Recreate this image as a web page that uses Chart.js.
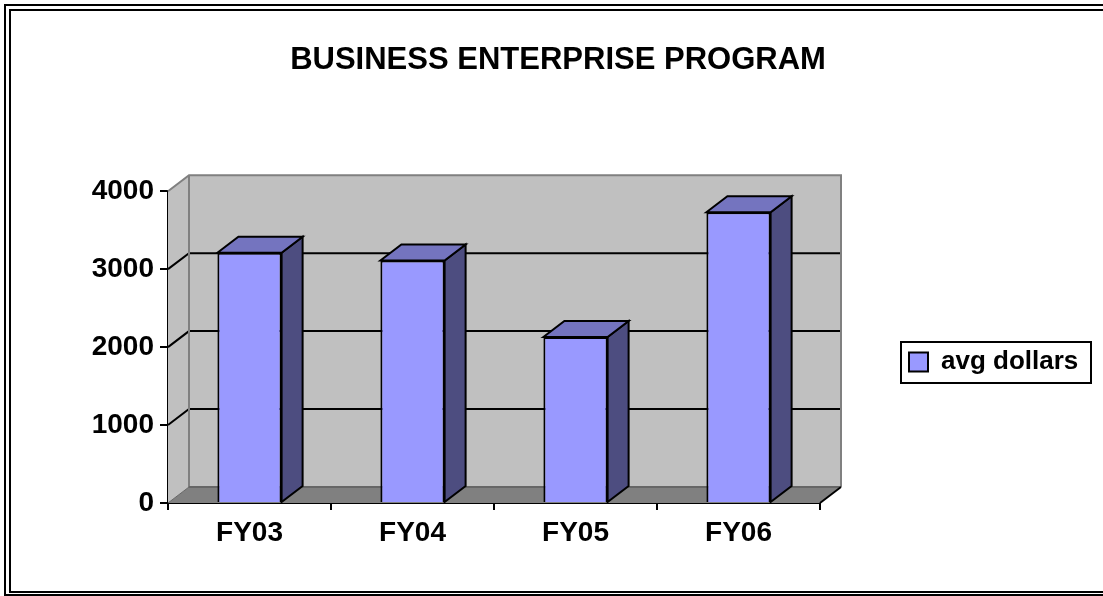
<!DOCTYPE html>
<html>
<head>
<meta charset="utf-8">
<title>Business Enterprise Program</title>
<script src="https://cdn.jsdelivr.net/npm/chart.js@4.4.1/dist/chart.umd.min.js"></script>
<style>
  html, body { margin: 0; padding: 0; background: #fff; overflow: hidden; }
  canvas { display: block; }
</style>
</head>
<body>
<canvas id="chart" width="1103" height="596"></canvas>
<script>
// values
const categories = ['FY03', 'FY04', 'FY05', 'FY06'];
const avgDollars = [3210, 3110, 2130, 3730];
const seriesName = 'avg dollars';
const yTicks = [0, 1000, 2000, 3000, 4000];
const chartTitle = 'BUSINESS ENTERPRISE PROGRAM';

const FONT = "'Liberation Sans', Arial, sans-serif";
const DX = 21, DY = -16;   // depth of the 3d box (to the back, right and up)
const legendFont = { family: FONT, size: 26, weight: 'bold' };
const legendPad = 89;
const legendSwatch = 19;

function path(ctx, pts, close) {
  ctx.beginPath();
  ctx.moveTo(pts[0][0], pts[0][1]);
  for (let i = 1; i < pts.length; i++) ctx.lineTo(pts[i][0], pts[i][1]);
  if (close) ctx.closePath();
}
function poly(ctx, pts, fill, stroke, lw) {
  path(ctx, pts, true);
  if (fill) { ctx.fillStyle = fill; ctx.fill(); }
  if (stroke) { ctx.strokeStyle = stroke; ctx.lineWidth = lw || 2; ctx.stroke(); }
}
function line(ctx, pts, stroke, lw) {
  path(ctx, pts, false);
  ctx.strokeStyle = stroke; ctx.lineWidth = lw || 2; ctx.stroke();
}

// double frame round the whole picture
const frame = {
  id: 'frame',
  beforeDraw(chart) {
    const ctx = chart.ctx;
    ctx.save();
    ctx.strokeStyle = '#000';
    ctx.lineWidth = 2;
    ctx.strokeRect(5, 5, 1120, 590);
    ctx.strokeRect(10, 10, 1110, 582);
    ctx.restore();
  }
};

// walls, floor and the 3d faces of the bars
const box3d = {
  id: 'box3d',
  beforeDatasetsDraw(chart) {
    const {ctx, chartArea: a, scales: {y}} = chart;
    const L = a.left, R = a.right;
    const T = y.getPixelForValue(yTicks[yTicks.length - 1]);
    const B = y.getPixelForValue(yTicks[0]);
    ctx.save();
    ctx.lineJoin = 'miter';
    // back wall + left wall
    poly(ctx, [[L + DX, T + DY], [R + DX, T + DY], [R + DX, B + DY], [L + DX, B + DY]], '#c0c0c0');
    poly(ctx, [[L, T], [L + DX, T + DY], [L + DX, B + DY], [L, B]], '#c0c0c0');
    // floor
    poly(ctx, [[L, B], [R, B], [R + DX, B + DY], [L + DX, B + DY]], '#808080');
    // gridlines on the walls
    yTicks.slice(1, -1).forEach(v => {
      const py = y.getPixelForValue(v);
      line(ctx, [[L, py], [L + DX, py + DY], [R + DX, py + DY]], '#000', 2);
    });
    // wall edges
    line(ctx, [[L, T], [L + DX, T + DY], [R + DX, T + DY], [R + DX, B + DY]], '#808080', 2);
    line(ctx, [[L + DX, T + DY], [L + DX, B + DY]], '#808080', 2);
    line(ctx, [[L + DX, B + DY], [R + DX, B + DY]], '#666666', 2);
    line(ctx, [[L, B], [L + DX, B + DY]], '#666666', 1);
    line(ctx, [[R, B], [R + DX, B + DY]], '#000', 2);
    ctx.restore();
  },
  afterDatasetsDraw(chart) {
    const ctx = chart.ctx;
    ctx.save();
    ctx.lineJoin = 'miter';
    chart.getDatasetMeta(0).data.forEach(bar => {
      const {x, y, base, width} = bar.getProps(['x', 'y', 'base', 'width'], true);
      const x1 = x - width / 2, x2 = x + width / 2;
      poly(ctx, [[x2, y], [x2 + DX, y + DY], [x2 + DX, base + DY], [x2, base]], '#4d4d80', '#000', 2);
      poly(ctx, [[x1, y], [x1 + DX, y + DY], [x2 + DX, y + DY], [x2, y]], '#7474bf', '#000', 2);
    });
    ctx.restore();
  }
};

// legend sits a bit lower than chart.js puts it, and has a frame
const legendBox = {
  id: 'legendBox',
  afterUpdate(chart) {
    const lg = chart.legend;
    const d = 362 - (lg.top + lg.bottom) / 2;
    lg.top += d;
    lg.bottom += d;
    if (lg.adjustHitBoxes) lg.adjustHitBoxes();
  },
  afterDraw(chart) {
    const lg = chart.legend;
    const ctx = chart.ctx;
    ctx.save();
    ctx.font = 'bold ' + legendFont.size + 'px ' + FONT;
    const textW = ctx.measureText(seriesName).width;
    const left = lg.left + legendPad;
    const w = legendSwatch + legendFont.size / 2 + textW;
    const cy = (lg.top + lg.bottom) / 2;
    ctx.strokeStyle = '#000';
    ctx.lineWidth = 2;
    ctx.strokeRect(Math.round(left) - 8, Math.round(cy - 20.5), Math.round(w) + 21, 41);
    ctx.restore();
  }
};

new Chart(document.getElementById('chart'), {
  type: 'bar',
  data: {
    labels: categories,
    datasets: [{
      label: seriesName,
      data: avgDollars,
      backgroundColor: '#9999ff',
      borderColor: '#000',
      borderWidth: 2,
      categoryPercentage: 1,
      barPercentage: 0.394
    }]
  },
  options: {
    responsive: false,
    animation: false,
    devicePixelRatio: 1,
    layout: { padding: { top: 13, left: 34, right: 21, bottom: 10 } },
    plugins: {
      title: {
        display: true,
        text: chartTitle,
        color: '#000',
        font: { family: FONT, size: 31, weight: 'bold' },
        padding: { top: 29, bottom: 112 }
      },
      legend: {
        position: 'right',
        labels: {
          color: '#000',
          font: legendFont,
          boxWidth: legendSwatch,
          boxHeight: legendSwatch,
          padding: legendPad
        }
      },
      tooltip: { enabled: false }
    },
    scales: {
      x: {
        z: 1,
        grid: { offset: true, drawOnChartArea: false, color: '#000', lineWidth: 2, tickLength: 7 },
        border: { color: '#000', width: 2 },
        ticks: { color: '#000', font: { family: FONT, size: 28, weight: 'bold' }, padding: 6 },
        afterFit(s) { s.height = 83; }
      },
      y: {
        z: 1,
        min: yTicks[0],
        max: yTicks[yTicks.length - 1],
        afterBuildTicks(s) { s.ticks = yTicks.map(v => ({ value: v })); },
        grid: { drawOnChartArea: false, color: '#000', lineWidth: 2, tickLength: 8 },
        border: { color: '#000', width: 2 },
        ticks: {
          color: '#000',
          font: { family: FONT, size: 28, weight: 'bold' },
          padding: 6,
          callback: v => String(v)
        },
        afterFit(s) { s.width = 134; }
      }
    }
  },
  plugins: [frame, box3d, legendBox]
});
</script>
</body>
</html>
